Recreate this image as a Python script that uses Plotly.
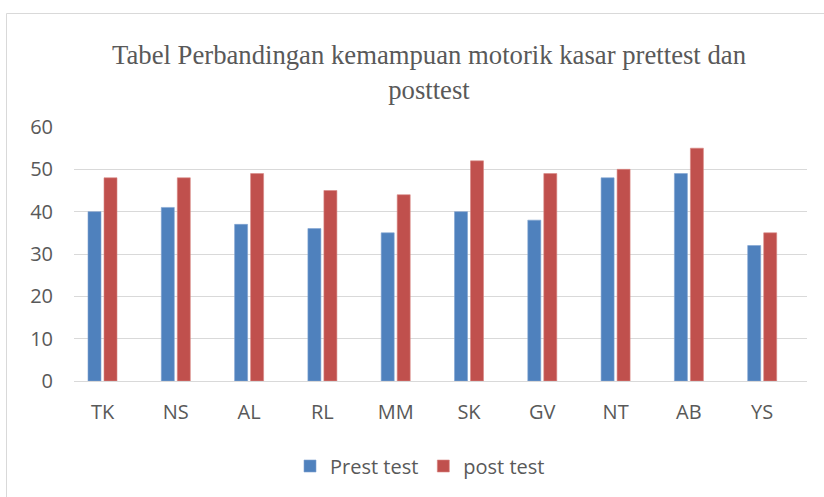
import plotly.graph_objects as go

categories = ["TK", "NS", "AL", "RL", "MM", "SK", "GV", "NT", "AB", "YS"]
prest_test = [40, 41, 37, 36, 35, 40, 38, 48, 49, 32]
post_test = [48, 48, 49, 45, 44, 52, 49, 50, 55, 35]
y_ticks = [0, 10, 20, 30, 40, 50, 60]
title_text = "Tabel Perbandingan kemampuan motorik kasar prettest dan<br>posttest"

W, H = 824, 497
ML, MR, MT, MB = 74, 17, 127, 116
PW, PH = W - ML - MR, H - MT - MB

def px_x(px):
    return (px - ML) / PW

def px_y(py):
    return (H - MB - py) / PH

cat_px = PW / 10.0
bw = 13 / cat_px
gap = 3 / cat_px

fig = go.Figure()
fig.add_trace(go.Bar(
    x=categories, y=prest_test, name="Prest test",
    marker=dict(color="#4F81BD", line=dict(color="#7FA3D1", width=0.6)),
    width=bw, offset=-(bw + gap / 2),
))
fig.add_trace(go.Bar(
    x=categories, y=post_test, name="post test",
    marker=dict(color="#C0504D", line=dict(color="#D98683", width=0.6)),
    width=bw, offset=gap / 2,
))

r0 = -(102.5 - ML) / cat_px
fig.update_layout(
    width=W, height=H,
    margin=dict(l=ML, r=MR, t=MT, b=MB),
    paper_bgcolor="white", plot_bgcolor="white",
    barmode="overlay",
    font=dict(family="Open Sans, sans-serif", size=20, color="#595959"),
    title=dict(
        text=title_text,
        font=dict(family="Liberation Serif, Times New Roman, serif", size=26.7, color="#595959"),
        x=px_x(429), xref="paper", xanchor="center",
        y=(H - 64) / H, yref="container", yanchor="bottom",
    ),
    xaxis=dict(
        range=[r0, r0 + 10], showgrid=False, zeroline=False, showline=False,
        ticks="", ticklabelstandoff=17, fixedrange=True,
    ),
    yaxis=dict(
        range=[0, 60], tickvals=y_ticks, showgrid=True, gridcolor="#D9D9D9", gridwidth=1,
        zeroline=True, zerolinecolor="#D9D9D9", zerolinewidth=1, showline=False,
        ticks="", ticklabelstandoff=20, fixedrange=True,
    ),
    legend=dict(
        orientation="h", x=px_x(420), xanchor="center", y=px_y(466), yanchor="middle",
        font=dict(size=20, color="#595959"), bgcolor="rgba(0,0,0,0)",
    ),
    showlegend=True,
)

fig.add_shape(
    type="rect", xref="paper", yref="paper",
    x0=px_x(6.5), x1=px_x(840), y0=px_y(510), y1=px_y(13.5),
    line=dict(color="#D9D9D9", width=1), fillcolor="rgba(0,0,0,0)", layer="below",
)

fig.write_html(
    "out.html",
    config={"displayModeBar": False},
    post_script="document.body.style.margin='0';",
)
